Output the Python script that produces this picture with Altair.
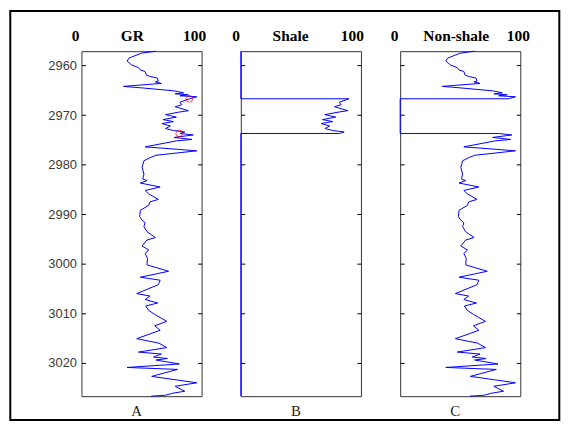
import altair as alt
import pandas as pd

# ---- data ----
depth = [2957.1, 2957.5, 2958.5, 2959.1, 2959.9, 2960.4, 2960.9, 2961.2, 2961.9, 2962.2,
         2962.5, 2963.1, 2963.3, 2963.6, 2964.2, 2964.5, 2965.1, 2965.5, 2965.7, 2965.9,
         2966.1, 2966.3, 2966.7, 2967.4, 2967.9, 2968.3, 2969.1, 2969.4, 2969.9, 2970.4,
         2970.9, 2971.3, 2971.7, 2972.2, 2972.7, 2973.1, 2973.4, 2973.7, 2974.0, 2974.5,
         2974.9, 2975.2, 2976.4, 2976.9, 2977.2, 2978.1, 2978.6, 2979.2, 2980.5, 2981.9,
         2982.9, 2983.2, 2983.7, 2984.5, 2985.2, 2985.9, 2987.0, 2987.5, 2988.2, 2989.2,
         2990.5, 2991.2, 2991.7, 2992.5, 2993.5, 2994.7, 2995.2, 2996.4, 2997.2, 2997.9,
         2998.9, 3000.2, 3001.5, 3002.7, 3003.3, 3004.2, 3006.0, 3006.5, 3007.2, 3007.9,
         3008.5, 3009.4, 3010.2, 3011.6, 3012.5, 3013.4, 3015.1, 3016.0, 3016.9, 3017.8,
         3018.2, 3018.8, 3019.1, 3019.4, 3020.2, 3020.9, 3021.3, 3022.7, 3024.0, 3024.7,
         3025.2, 3025.7, 3026.1, 3026.5, 3026.7]
gr = [62, 50, 39.5, 38, 42, 47.5, 49, 53, 54, 57,
      63, 64, 61.5, 66.5, 35, 50, 77, 85, 78, 89,
      82, 96, 90, 82, 83.5, 78, 89, 81, 70, 79,
      68, 76.5, 67, 74, 70, 76.5, 86, 82, 93, 77,
      92, 79, 53, 80, 96, 62, 57, 52, 50.5, 52,
      51, 54.5, 49, 65.5, 53, 56, 64, 57, 56, 49,
      48.5, 50.5, 53, 52, 54.5, 61.5, 54.5, 50.5, 56, 53,
      55, 54.5, 72.5, 49, 65.5, 64, 46, 57, 53, 63.5,
      53.5, 56, 61, 71, 61, 65.5, 46, 64.5, 71, 47.5,
      66.5, 60, 71.5, 62, 81.5, 38, 80, 58.5, 96, 78,
      82, 86, 76, 70, 58]
shale_top = 2966.7
shale_base = 2973.7
circle_depth = [2966.7, 2973.7]
circle_gr = [89.8, 81.3]
y_ticks = [2960, 2970, 2980, 2990, 3000, 3010, 3020]
depth_min, depth_max = 2957.1, 3026.7
x_ticks = [0, 100]
titles = ["GR", "Shale", "Non-shale"]
letters = ["A", "B", "C"]

# ---- build the three curves ----
gr_rows = list(zip(depth, gr))

shale_rows = [(depth[0], 0), (shale_top, 0)]
for d, v in gr_rows:
    if shale_top <= d <= shale_base:
        shale_rows.append((d, v))
shale_rows += [(shale_base, 0), (depth[-1], 0)]

non_rows = []
for d, v in gr_rows:
    if d < shale_top or d > shale_base:
        non_rows.append((d, v))
    elif d == shale_top:
        non_rows += [(d, v), (d, 0)]
    elif d == shale_base:
        non_rows += [(d, 0), (d, v)]


def frame_of(rows):
    return pd.DataFrame({"d": [r[0] for r in rows], "v": [r[1] for r in rows],
                         "i": list(range(len(rows)))})


SERIF = "Liberation Serif"
SANS = "Liberation Sans"
xs = alt.Scale(domain=[0, 100], nice=False, zero=False)
ys = alt.Scale(domain=[depth_min, depth_max], nice=False, zero=False, reverse=True)


def panel(df, title, off0, off100, title_x, letter, show_labels, extra_front=None, extra_back=None):
    top_axis = alt.Axis(
        orient="top", values=x_ticks, ticks=False, tickSize=0, domain=False, grid=False,
        labelFont=SERIF, labelFontWeight="bold", labelFontSize=15.5, labelColor="black",
        labelBaseline="middle", labelAlign="center", labelPadding=15.5, labelFlush=False,
        labelOverlap=False,
        labelOffset={"condition": {"test": "datum.value == 0", "value": off0}, "value": off100},
        title=title, titleFont=SERIF, titleFontWeight="bold", titleFontSize=15.5,
        titleColor="black", titleX=title_x, titleY=-15.5, titleBaseline="middle",
        titleAlign="center")
    bottom_axis = alt.Axis(
        orient="bottom", labels=False, ticks=False, domain=False, grid=False,
        title=letter, titleFont=SERIF, titleFontWeight="normal", titleFontSize=15,
        titleColor="#222222", titleX=55, titleY=14.5, titleBaseline="middle",
        titleAlign="center")
    left_axis = alt.Axis(
        orient="left", values=y_ticks, format="d", offset=-4, tickSize=4, tickColor="black",
        domain=False, grid=False, labels=show_labels, labelFont=SANS, labelFontSize=13,
        labelColor="#3a3a3a", labelPadding=5, title=None)
    right_axis = alt.Axis(
        orient="right", values=y_ticks, offset=-4, tickSize=4, tickColor="black",
        domain=False, grid=False, labels=False, title=None)

    base = alt.Chart(df)
    line = base.mark_line(color="#0000ff", strokeWidth=1).encode(
        x=alt.X("v:Q", scale=xs, axis=top_axis),
        y=alt.Y("d:Q", scale=ys, axis=left_axis),
        order=alt.Order("i:Q"))
    ghost = base.mark_line(strokeOpacity=0).encode(
        x=alt.X("v:Q", scale=xs, axis=bottom_axis),
        y=alt.Y("d:Q", scale=ys, axis=right_axis),
        order=alt.Order("i:Q"))
    layers = []
    if extra_back is not None:
        layers.append(extra_back)
    layers += [line, ghost]
    if extra_front is not None:
        layers.append(extra_front)
    return alt.layer(*layers).resolve_axis(x="independent", y="independent").properties(
        width=121, height=347.5)


circles = alt.Chart(pd.DataFrame({"d": circle_depth, "v": circle_gr})).mark_point(
    shape="circle", filled=False, color="red", size=45, strokeWidth=1).encode(
    x=alt.X("v:Q", scale=xs, axis=None),
    y=alt.Y("d:Q", scale=ys, axis=None))

outer = alt.Chart(pd.DataFrame({"k": [0]})).mark_rect(
    fillOpacity=0, stroke="black", strokeWidth=2).encode(
    x=alt.value(-71.7), x2=alt.value(481.3), y=alt.value(-40.5), y2=alt.value(371.5))

pA = panel(frame_of(gr_rows), titles[0], -6.3, -7.6, 50.8, letters[0], True,
           extra_front=circles, extra_back=outer)
pB = panel(frame_of(shale_rows), titles[1], -5.2, -9.2, 49.6, letters[1], False)
pC = panel(frame_of(non_rows), titles[2], -6.2, -2.5, 56, letters[2], False)

chart = alt.hconcat(pA, pB, pC, spacing=39.5, bounds="flush").properties(
    padding=0).configure_view(stroke="#333333", strokeWidth=1)

chart.save("out.html", embed_options={"renderer": "svg", "actions": False})
